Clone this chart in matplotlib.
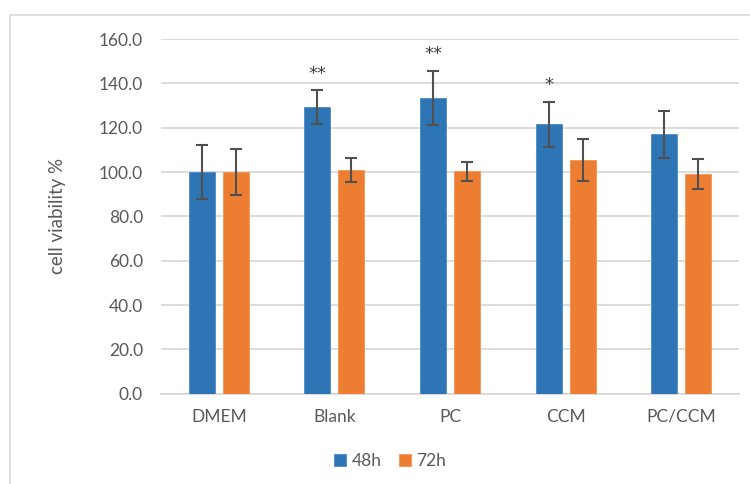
import matplotlib
matplotlib.use('Agg')
import matplotlib.pyplot as plt
import numpy as np
from matplotlib.patches import Rectangle

plt.rcParams['font.family'] = ['Lato', 'DejaVu Sans']

categories = ['DMEM', 'Blank', 'PC', 'CCM', 'PC/CCM']
v48 = [100.0, 129.3, 133.5, 121.5, 117.0]
e48 = [12.1, 7.5, 12.2, 10.1, 10.6]
v72 = [100.0, 100.9, 100.3, 105.4, 99.1]
e72 = [10.3, 5.2, 4.4, 9.4, 6.8]
stars = ['', '**', '**', '*', '']
yticks = [0, 20, 40, 60, 80, 100, 120, 140, 160]

blue = '#2E75B6'
orange = '#ED7D31'
grey_text = '#595959'
grid_c = '#D9D9D9'

fig = plt.figure(figsize=(7.5, 4.84), dpi=100)
fig.patch.set_facecolor('white')
# outer chart frame
fig.patches.append(Rectangle((10 / 750, -0.1), 1.2, 1 - 15 / 484 + 0.1,
                             transform=fig.transFigure, fill=False,
                             edgecolor=grid_c, linewidth=1.2))

ax = fig.add_axes([161 / 750, 1 - 393.7 / 484, 578 / 750, (393.7 - 39) / 484])
x = np.arange(len(categories))
w = 0.225
off = 0.147
ax.bar(x - off, v48, w, color=blue, edgecolor='#4A8AC6', linewidth=0.6, zorder=3, label='48h')
ax.bar(x + off, v72, w, color=orange, edgecolor='#F29455', linewidth=0.6, zorder=3, label='72h')
ax.errorbar(x - off, v48, yerr=e48, fmt='none', ecolor='#505050', elinewidth=1.5,
            capsize=4, capthick=1.5, zorder=4)
ax.errorbar(x + off, v72, yerr=e72, fmt='none', ecolor='#505050', elinewidth=1.5,
            capsize=4, capthick=1.5, zorder=4)
for i, s in enumerate(stars):
    if s:
        ax.text(x[i] - off, v48[i] + e48[i] + 7.5, s, ha='center', va='center',
                fontsize=13, color='#404040', family='DejaVu Sans')

ax.set_xlim(-0.5, len(categories) - 0.5)
ax.set_ylim(0, 160)
ax.set_yticks(yticks)
ax.set_yticklabels([f'{t:.1f}' for t in yticks])
ax.set_xticks(x)
ax.set_xticklabels(categories)
ax.tick_params(axis='both', length=0, labelsize=12.5, colors=grey_text)
ax.tick_params(axis='x', pad=11)
ax.tick_params(axis='y', pad=13)
ax.yaxis.grid(True, color=grid_c, linewidth=1.3, zorder=0)
ax.set_axisbelow(True)
for sp in ['top', 'right', 'left']:
    ax.spines[sp].set_visible(False)
ax.spines['bottom'].set_color(grid_c)
ax.spines['bottom'].set_linewidth(1.3)
ax.set_ylabel('cell viability %', fontsize=13.5, color=grey_text)
ax.yaxis.set_label_coords((66 - 161) / 578, 0.5)

fig.legend(loc='center', bbox_to_anchor=(390 / 750, 1 - 461 / 484), ncol=2,
           frameon=False, fontsize=12.5, handlelength=0.7, handleheight=0.7,
           handletextpad=0.3, columnspacing=1.0, labelcolor=grey_text)

fig.savefig('out.png', dpi=100)
